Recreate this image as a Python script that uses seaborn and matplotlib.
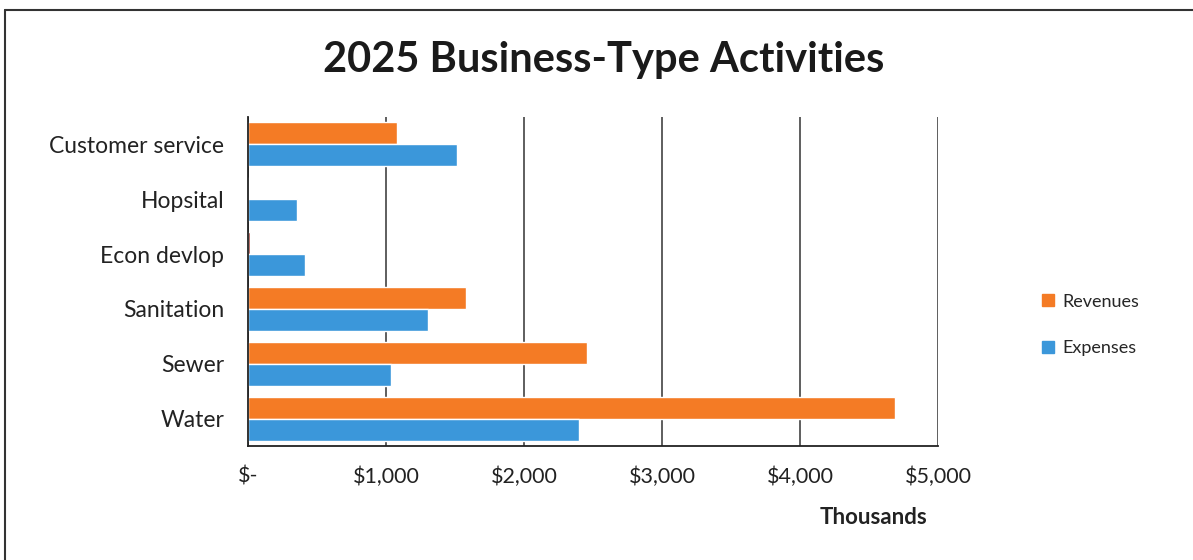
import matplotlib
matplotlib.use("Agg")
import matplotlib.pyplot as plt
import seaborn as sns
import pandas as pd
from matplotlib.lines import Line2D

categories = ["Customer service", "Hopsital", "Econ devlop", "Sanitation", "Sewer", "Water"]
revenues = [1080, 0, 12, 1580, 2455, 4685]
expenses = [1513, 355, 413, 1303, 1036, 2397]
series_names = ["Revenues", "Expenses"]
x_ticks = [0, 1000, 2000, 3000, 4000, 5000]
x_tick_labels = ["$-", "$1,000", "$2,000", "$3,000", "$4,000", "$5,000"]

df = pd.DataFrame({
    "category": categories * 2,
    "series": [series_names[0]] * len(categories) + [series_names[1]] * len(categories),
    "value": revenues + expenses,
})

sns.set_theme(style="white")
plt.rcParams["font.family"] = ["Lato", "DejaVu Sans"]

orange = "#F47B25"
blue = "#3B97DA"

fig = plt.figure(figsize=(11.93, 5.6), dpi=100)
ax = fig.add_axes([248 / 1193, 1 - 446 / 560, (938 - 248) / 1193, (446 - 117) / 560])

sns.barplot(data=df, y="category", x="value", hue="series", hue_order=series_names,
            order=categories, palette=[orange, blue], orient="h", width=0.8,
            saturation=1, ax=ax, legend=False)

# tiny dark sliver for Econ devlop revenue
for p in ax.patches[:len(categories)]:
    if 0 < p.get_width() < 50:
        p.set_facecolor("#8B1A10")

ax.set_xlim(0, 5000)
ax.set_ylim(len(categories) - 0.5, -0.5)
ax.set_xticks(x_ticks)
ax.set_xticklabels(x_tick_labels, fontsize=15.5, color="#222222")
ax.tick_params(axis="x", pad=15, length=0)
ax.tick_params(axis="y", pad=17, length=0, labelsize=16.5, labelcolor="#222222")
ax.set_ylabel("")
ax.set_xlabel("")
ax.xaxis.grid(True, color="#333333", linewidth=1.1)
ax.set_axisbelow(True)
for s in ["top", "right"]:
    ax.spines[s].set_visible(False)
for s in ["left", "bottom"]:
    ax.spines[s].set_visible(True)
    ax.spines[s].set_color("#222222")
    ax.spines[s].set_linewidth(1.3)

fig.text(604 / 1193, 1 - 60 / 560, "2025 Business-Type Activities", ha="center", va="center",
         fontsize=30, fontweight="bold", color="#1a1a1a")
fig.text(873 / 1193, 1 - 518 / 560, "Thousands", ha="center", va="center",
         fontsize=16, fontweight="bold", color="#222222")

handles = [Line2D([0], [0], marker="s", linestyle="", markersize=8.5, markerfacecolor=c,
                  markeredgecolor=c) for c in [orange, blue]]
fig.legend(handles, series_names, loc="center left", bbox_to_anchor=(1023 / 1193, 1 - 325 / 560),
           frameon=False, fontsize=13, handletextpad=0.3, labelspacing=1.7, handlelength=1.0)

# scanned frame lines
fig.add_artist(Line2D([5 / 1193, 1], [1 - 10 / 560, 1 - 10 / 560], color="#333333", linewidth=1.5,
                      transform=fig.transFigure))
fig.add_artist(Line2D([5 / 1193, 5 / 1193], [0, 1 - 10 / 560], color="#333333", linewidth=1.5,
                      transform=fig.transFigure))

fig.savefig("out.png", dpi=100)
